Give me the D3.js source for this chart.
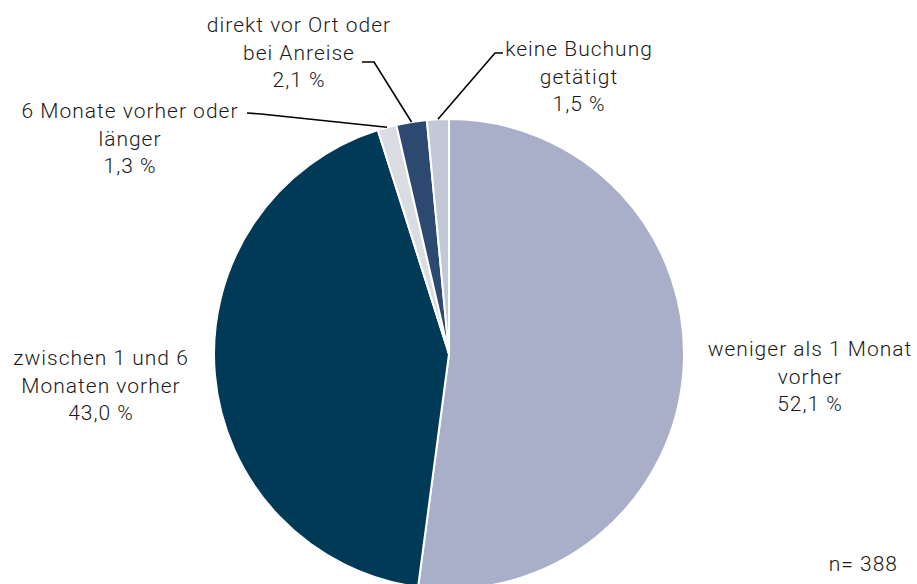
<!DOCTYPE html>
<html>
<head>
<meta charset="utf-8">
<script src="https://cdn.jsdelivr.net/npm/d3@7"></script>
<style>
  html, body { margin: 0; padding: 0; background: #fff; overflow: hidden; }
  svg text { font-family: Roboto, "Liberation Sans", sans-serif; font-weight: 300; fill: #1a1a1a; letter-spacing: 1px; }
</style>
</head>
<body>
<svg id="chart" width="917" height="584"></svg>
<script>
// Buchungszeitpunkt, Anteile in %
const categories = [
  'weniger als 1 Monat vorher',
  'zwischen 1 und 6 Monaten vorher',
  '6 Monate vorher oder länger',
  'direkt vor Ort oder bei Anreise',
  'keine Buchung getätigt'
];
const shares = [52.1, 43.0, 1.3, 2.1, 1.5];
const sliceColors = ['#a9afc8', '#003a57', '#d9dde2', '#2c4a70', '#c3c8d7'];
const labelLines = [
  ['weniger als 1 Monat', 'vorher'],
  ['zwischen 1 und 6', 'Monaten vorher'],
  ['6 Monate vorher oder', 'länger'],
  ['direkt vor Ort oder', 'bei Anreise'],
  ['keine Buchung', 'getätigt']
];
const sampleSize = 388;

const svg = d3.select('#chart');
const cx = 449, cy = 354, radius = 235;

const fmt = v => d3.format('.1f')(v).replace('.', ',') + ' %';

// label layout: center x, first baseline, optional leader (elbow + end)
const labelLayout = [
  { x: 810, y: 356 },
  { x: 101, y: 365 },
  { x: 130, y: 118, elbow: [261, 114], end: [247, 113] },
  { x: 299, y: 32, elbow: [374, 62], end: [362, 62] },
  { x: 579, y: 56, elbow: [495, 53], end: [503, 53] }
];
const lineHeight = 27.5;

const pie = d3.pie().sort(null).value(d => d);
const arcs = pie(shares);

const arc = d3.arc().innerRadius(0).outerRadius(radius);

const g = svg.append('g').attr('transform', `translate(${cx},${cy})`);

g.selectAll('path')
  .data(arcs)
  .join('path')
  .attr('d', arc)
  .attr('fill', (d, i) => sliceColors[i])
  .attr('stroke', '#fff')
  .attr('stroke-width', 2)
  .attr('stroke-linejoin', 'round');

// leader lines for the small slices
arcs.forEach((d, i) => {
  const l = labelLayout[i];
  if (!l.elbow) return;
  const mid = (d.startAngle + d.endAngle) / 2;
  const sx = cx + radius * Math.sin(mid);
  const sy = cy - radius * Math.cos(mid);
  svg.append('path')
    .attr('d', d3.line()([[sx, sy], l.elbow, l.end]))
    .attr('fill', 'none')
    .attr('stroke', '#000')
    .attr('stroke-width', 1.6);
});

// labels
arcs.forEach((d, i) => {
  const l = labelLayout[i];
  const t = svg.append('text')
    .attr('text-anchor', 'middle')
    .attr('font-size', 21);
  labelLines[i].concat([fmt(shares[i])]).forEach((s, j) => {
    t.append('tspan')
      .attr('x', l.x)
      .attr('y', l.y + j * lineHeight)
      .text(s);
  });
});

svg.append('text')
  .attr('x', 898)
  .attr('y', 571)
  .attr('text-anchor', 'end')
  .attr('font-size', 21)
  .text('n= ' + sampleSize);
</script>
</body>
</html>
